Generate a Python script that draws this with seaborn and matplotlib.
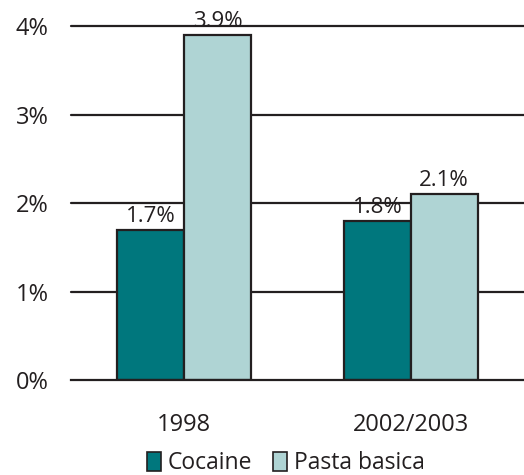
import matplotlib
matplotlib.use("Agg")
import matplotlib.pyplot as plt
import seaborn as sns
import pandas as pd
from matplotlib.patches import Patch

years = ["1998", "2002/2003"]
cocaine = [1.7, 1.8]
pasta_basica = [3.9, 2.1]
series_names = ["Cocaine", "Pasta basica"]
y_ticks = [0, 1, 2, 3, 4]
y_tick_labels = ["0%", "1%", "2%", "3%", "4%"]

colors = {"Cocaine": "#00777d", "Pasta basica": "#afd4d4"}
ink = "#231f20"

df = pd.DataFrame({
    "year": years * 2,
    "drug": [series_names[0]] * len(years) + [series_names[1]] * len(years),
    "value": cocaine + pasta_basica,
})

sns.set_theme(style="white")
plt.rcParams["font.family"] = ["Open Sans", "DejaVu Sans"]
plt.rcParams["text.color"] = ink

fig = plt.figure(figsize=(5.24, 4.75), dpi=100)
ax = fig.add_axes([0.1355, 0.2, 0.8645, 0.745])

sns.barplot(data=df, x="year", y="value", hue="drug", hue_order=series_names,
            order=years, palette=colors, edgecolor=ink, linewidth=1.6,
            width=0.59, gap=0, saturation=1, ax=ax, legend=False, zorder=3)

ax.set_xlim(-0.5, 1.5)
ax.set_ylim(0, 4)
ax.set_yticks(y_ticks)
ax.set_yticklabels(y_tick_labels)
for y in y_ticks[1:]:
    ax.axhline(y, color=ink, lw=1.6, zorder=1, clip_on=False)

for s in ["left", "right", "top"]:
    ax.spines[s].set_visible(False)
ax.spines["bottom"].set_color(ink)
ax.spines["bottom"].set_linewidth(1.6)
ax.spines["bottom"].set_zorder(4)

ax.set_xlabel("")
ax.set_ylabel("")
ax.tick_params(axis="y", length=0, pad=16, labelsize=17, labelcolor=ink)
ax.tick_params(axis="x", which="major", length=0, pad=24, labelsize=17, labelcolor=ink)
ax.set_xticks([-0.5, 0.5, 1.5], minor=True)
ax.tick_params(axis="x", which="minor", length=8, width=1.6, color=ink, direction="out")

for cont in ax.containers:
    ax.bar_label(cont, labels=[f"{v:.1f}%" for v in cont.datavalues],
                 padding=2, fontsize=16, color=ink)

handles = [Patch(facecolor=colors[n], edgecolor=ink, linewidth=1.2) for n in series_names]
fig.legend(handles, series_names, loc="center", bbox_to_anchor=(0.546, 0.025),
           ncol=2, frameon=False, fontsize=16.5, handlelength=0.6, handleheight=0.9,
           handletextpad=0.3, columnspacing=0.9, borderpad=0)

fig.savefig("out.png", dpi=100)
